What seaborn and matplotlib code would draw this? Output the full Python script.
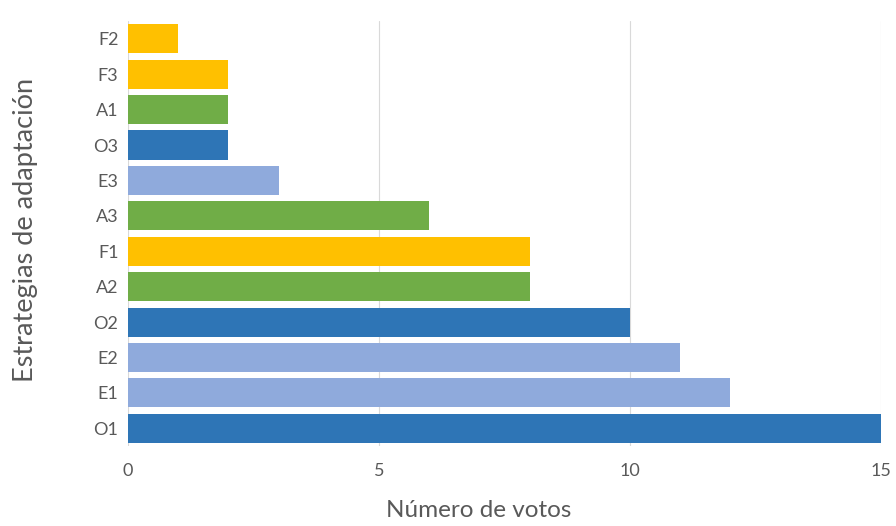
import matplotlib
matplotlib.use("Agg")
import matplotlib.pyplot as plt
import seaborn as sns
import pandas as pd

strategies = ["F2", "F3", "A1", "O3", "E3", "A3", "F1", "A2", "O2", "E2", "E1", "O1"]
votes = [1, 2, 2, 2, 3, 6, 8, 8, 10, 11, 12, 15]
x_ticks = [0, 5, 10, 15]

group_colors = {"F": "#FFC000", "A": "#70AD47", "O": "#2E75B6", "E": "#8FAADC"}

sns.set_theme(style="white")
plt.rcParams['font.family'] = ['Lato', 'DejaVu Sans']

data = pd.DataFrame({"Estrategia": strategies, "Votos": votes})
data["Grupo"] = data["Estrategia"].str[0]

fig = plt.figure(figsize=(8.96, 5.26), dpi=100)
ax = fig.add_axes([0.143, 0.152, 0.840, 0.808])

sns.barplot(data=data, x="Votos", y="Estrategia", hue="Grupo", palette=group_colors,
            order=strategies, dodge=False, width=0.82, saturation=1, legend=False,
            linewidth=0, ax=ax, zorder=3)

ax.set_xlim(0, 15)
ax.set_ylim(11.5, -0.5)
ax.set_xticks(x_ticks)
ax.grid(axis="x", color="#d9d9d9", linewidth=0.8, zorder=0)
ax.set_axisbelow(True)
for s in ax.spines.values():
    s.set_visible(False)

ax.tick_params(axis="both", length=0, labelsize=13, labelcolor="#595959")
ax.tick_params(axis="x", pad=12)
ax.tick_params(axis="y", pad=7)
ax.set_xlabel("Número de votos", fontsize=17.5, color="#595959")
ax.set_ylabel("Estrategias de adaptación", fontsize=19.5, color="#595959")
ax.xaxis.set_label_coords(0.466, -0.128)
ax.yaxis.set_label_coords(-0.120, 0.508)

fig.savefig("out.png", dpi=100)
